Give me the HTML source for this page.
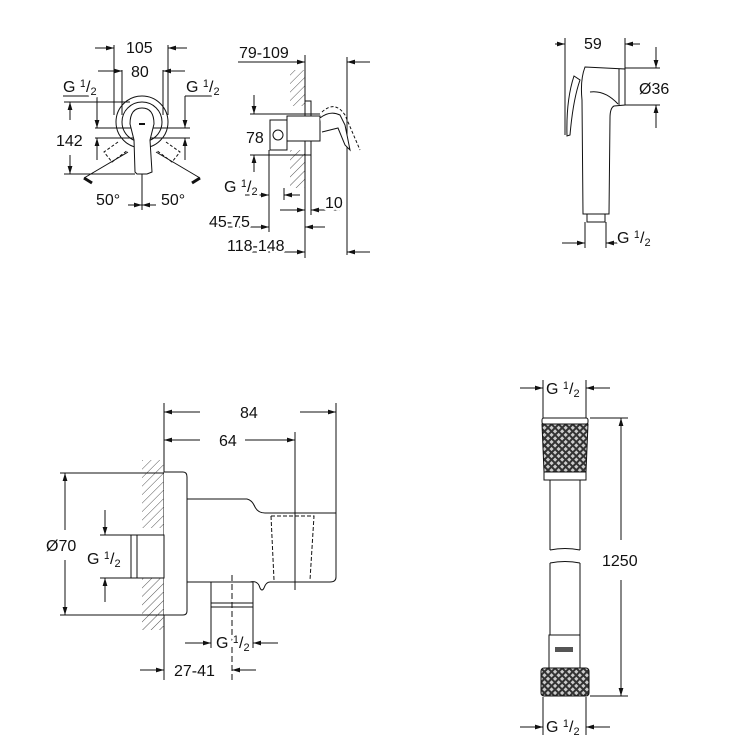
<!DOCTYPE html>
<html><head><meta charset="utf-8"><style>
html,body{margin:0;padding:0;background:#fff;}
svg{display:block;}
text{font-family:"Liberation Sans",sans-serif;font-size:16px;fill:#111;stroke:#fff;stroke-width:5px;paint-order:stroke;stroke-linejoin:round;}
.s{font-size:11px;}
</style></head><body>
<svg width="750" height="750" viewBox="0 0 750 750" xmlns="http://www.w3.org/2000/svg">
<defs>
<marker id="a" viewBox="0 0 10 6" refX="10" refY="3" markerWidth="8" markerHeight="5" orient="auto-start-reverse"><path d="M0,0L10,3L0,6z" fill="#111"/></marker>
<pattern id="h" width="6" height="6" patternUnits="userSpaceOnUse" patternTransform="rotate(45)"><line x1="0" y1="0" x2="0" y2="6" stroke="#555" stroke-width="1"/></pattern>
<pattern id="x" width="5" height="5" patternUnits="userSpaceOnUse" patternTransform="rotate(45)"><rect width="5" height="5" fill="#333"/><rect x="1" y="1" width="3" height="3" fill="#ccc"/></pattern>
</defs>
<g stroke="#111" stroke-width="1" fill="none">
<!-- Front mixer view -->
<line x1="114" y1="45" x2="114" y2="115"/><line x1="168" y1="45" x2="168" y2="115"/>
<line x1="95" y1="48" x2="114" y2="48" marker-end="url(#a)"/><line x1="187" y1="48" x2="168" y2="48" marker-end="url(#a)"/>
<line x1="122" y1="70" x2="122" y2="115"/><line x1="163" y1="70" x2="163" y2="115"/>
<line x1="98" y1="71" x2="122" y2="71" marker-end="url(#a)"/><line x1="185" y1="71" x2="163" y2="71" marker-end="url(#a)"/>
<line x1="63" y1="96" x2="95" y2="96"/><line x1="185" y1="96" x2="220" y2="96"/>
<line x1="64" y1="102" x2="130" y2="102"/><line x1="64" y1="174" x2="135" y2="174"/>
<line x1="70" y1="120" x2="70" y2="102" marker-end="url(#a)"/><line x1="70" y1="155" x2="70" y2="174" marker-end="url(#a)"/>
<line x1="97" y1="96" x2="97" y2="128" marker-end="url(#a)"/><line x1="97" y1="160" x2="97" y2="138" marker-end="url(#a)"/>
<line x1="185" y1="96" x2="185" y2="128" marker-end="url(#a)"/><line x1="185" y1="160" x2="185" y2="138" marker-end="url(#a)"/>
<line x1="95" y1="128" x2="190" y2="128"/><line x1="95" y1="138" x2="190" y2="138"/>
<circle cx="142" cy="122" r="26"/><circle cx="142" cy="122" r="20"/>
<path d="M130,124 Q130,108 142,108 Q154,108 154,124 L150,140 L152,172 L147,174 L137,174 L135,172 L134,140 Z" fill="#fff"/>
<line x1="139" y1="124" x2="145" y2="124" stroke-width="2"/>
<path d="M118,142 L104,152 L112,162 L128,150" stroke-dasharray="3,2"/>
<path d="M166,142 L180,152 L172,162 L156,150" stroke-dasharray="3,2"/>
<line x1="84" y1="178" x2="128" y2="152"/><line x1="200" y1="178" x2="156" y2="152"/>
<line x1="84" y1="178" x2="92" y2="183" stroke-width="3"/><line x1="200" y1="178" x2="192" y2="183" stroke-width="3"/>
<line x1="142" y1="174" x2="142" y2="210"/>
<line x1="128" y1="205" x2="142" y2="205" marker-end="url(#a)"/><line x1="156" y1="205" x2="142" y2="205" marker-end="url(#a)"/>
<!-- Side view -->
<rect x="290" y="70" width="15" height="36" fill="url(#h)" stroke="none"/>
<rect x="290" y="150" width="15" height="38" fill="url(#h)" stroke="none"/>
<line x1="305" y1="55" x2="305" y2="258"/>
<line x1="238" y1="62" x2="305" y2="62" marker-end="url(#a)"/>
<line x1="347" y1="57" x2="347" y2="255"/><line x1="370" y1="62" x2="347" y2="62" marker-end="url(#a)"/>
<rect x="305" y="101" width="6" height="54" fill="#fff"/>
<rect x="287" y="116" width="33" height="25" fill="#fff"/>
<rect x="270" y="120" width="17" height="30" fill="#fff"/>
<circle cx="278" cy="135" r="5"/>
<path d="M320,118 Q330,110 340,115 L345,125 L350,150 L345,145 L338,128 L322,132" fill="#fff"/>
<path d="M322,112 Q335,100 345,115 L360,150" stroke-dasharray="3,2"/>
<line x1="250" y1="114" x2="320" y2="114"/><line x1="250" y1="155" x2="305" y2="155"/>
<line x1="254" y1="95" x2="254" y2="114" marker-end="url(#a)"/><line x1="254" y1="172" x2="254" y2="155" marker-end="url(#a)"/>
<line x1="269" y1="150" x2="269" y2="232"/>
<line x1="245" y1="195" x2="269" y2="195" marker-end="url(#a)"/><line x1="300" y1="195" x2="284" y2="195" marker-end="url(#a)"/>
<line x1="284" y1="188" x2="284" y2="200"/>
<line x1="280" y1="210" x2="305" y2="210" marker-end="url(#a)"/><line x1="325" y1="210" x2="311" y2="210" marker-end="url(#a)"/>
<line x1="311" y1="155" x2="311" y2="215"/><line x1="311" y1="210" x2="340" y2="210"/>
<line x1="228" y1="227" x2="269" y2="227" marker-end="url(#a)"/><line x1="325" y1="227" x2="305" y2="227" marker-end="url(#a)"/>
<line x1="228" y1="252" x2="305" y2="252" marker-end="url(#a)"/><line x1="370" y1="252" x2="347" y2="252" marker-end="url(#a)"/>
<!-- Hand shower -->
<line x1="565" y1="38" x2="565" y2="135"/><line x1="625" y1="38" x2="625" y2="72"/>
<line x1="555" y1="44" x2="565" y2="44" marker-end="url(#a)"/><line x1="640" y1="44" x2="625" y2="44" marker-end="url(#a)"/>
<line x1="625" y1="68" x2="660" y2="68"/><line x1="612" y1="105" x2="660" y2="105"/>
<line x1="656" y1="47" x2="656" y2="68" marker-end="url(#a)"/><line x1="656" y1="128" x2="656" y2="105" marker-end="url(#a)"/>
<path d="M585,67 L625,69 L625,105 L614,106 Q610,108 610,118 L609,214 L583,214 L582,100 Q580,80 585,67 Z" fill="#fff"/>
<line x1="619" y1="69" x2="619" y2="105"/>
<path d="M590,92 Q605,90 618,104"/>
<path d="M574,76 Q566,100 567,136 L570,135 Q573,100 580,80 Z" fill="#fff"/>
<rect x="587" y="214" width="18" height="8" fill="#fff"/>
<line x1="585" y1="222" x2="585" y2="248"/><line x1="606" y1="222" x2="606" y2="248"/>
<line x1="562" y1="243" x2="585" y2="243" marker-end="url(#a)"/><line x1="628" y1="243" x2="606" y2="243" marker-end="url(#a)"/>
<!-- Wall outlet -->
<line x1="164" y1="403" x2="164" y2="680"/><line x1="336" y1="403" x2="336" y2="515"/>
<line x1="200" y1="412" x2="164" y2="412" marker-end="url(#a)"/><line x1="300" y1="412" x2="336" y2="412" marker-end="url(#a)"/>
<line x1="295" y1="432" x2="295" y2="590"/>
<line x1="200" y1="440" x2="164" y2="440" marker-end="url(#a)"/><line x1="245" y1="440" x2="295" y2="440" marker-end="url(#a)"/>
<rect x="142" y="460" width="22" height="68" fill="url(#h)" stroke="none"/>
<rect x="142" y="578" width="22" height="52" fill="url(#h)" stroke="none"/>
<path d="M164,472 L183,472 Q187,472 187,477 L187,611 Q187,615 183,615 L164,615" fill="#fff"/>
<path d="M187,499 L247,499 Q252,500 255,507 Q258,513 265,513 L336,513 L336,577 Q336,582 330,582 L270,582 Q266,582 264,588 Q262,592 260,588 Q258,580 250,582 L187,582"/>
<path d="M271,516 L274,580 M271,516 L314,516 L310,580" stroke-dasharray="4,2"/>
<rect x="131" y="535" width="33" height="43" fill="#fff"/>
<line x1="137" y1="535" x2="137" y2="578"/>
<rect x="211" y="582" width="42" height="25" fill="#fff"/><line x1="211" y1="603" x2="253" y2="603"/>
<line x1="232" y1="575" x2="232" y2="680" stroke-dasharray="6,3"/>
<line x1="60" y1="473" x2="164" y2="473"/><line x1="60" y1="615" x2="164" y2="615"/>
<line x1="65" y1="530" x2="65" y2="473" marker-end="url(#a)"/><line x1="65" y1="560" x2="65" y2="615" marker-end="url(#a)"/>
<line x1="100" y1="535" x2="131" y2="535"/><line x1="100" y1="578" x2="131" y2="578"/>
<line x1="105" y1="510" x2="105" y2="535" marker-end="url(#a)"/><line x1="105" y1="602" x2="105" y2="578" marker-end="url(#a)"/>
<line x1="211" y1="607" x2="211" y2="648"/><line x1="253" y1="607" x2="253" y2="648"/>
<line x1="185" y1="643" x2="211" y2="643" marker-end="url(#a)"/><line x1="278" y1="643" x2="253" y2="643" marker-end="url(#a)"/>
<line x1="140" y1="670" x2="164" y2="670" marker-end="url(#a)"/><line x1="256" y1="670" x2="232" y2="670" marker-end="url(#a)"/>
<!-- Hose -->
<line x1="543" y1="380" x2="543" y2="418"/><line x1="586" y1="380" x2="586" y2="418"/>
<line x1="520" y1="388" x2="543" y2="388" marker-end="url(#a)"/><line x1="610" y1="388" x2="586" y2="388" marker-end="url(#a)"/>
<rect x="542" y="418" width="46" height="6" rx="2" fill="#fff"/>
<path d="M542,424 L588,424 L586,472 L544,472 Z" fill="url(#x)"/>
<rect x="544" y="472" width="42" height="8" fill="#fff"/>
<line x1="550" y1="480" x2="550" y2="550"/><line x1="580" y1="480" x2="580" y2="550"/>
<path d="M550,550 Q565,547 580,550"/><path d="M550,563 Q565,560 580,563"/>
<line x1="550" y1="563" x2="550" y2="635"/><line x1="580" y1="563" x2="580" y2="635"/>
<rect x="549" y="635" width="31" height="33" fill="#fff"/>
<rect x="555" y="647" width="18" height="5" fill="#555" stroke="none"/>
<rect x="541" y="668" width="48" height="28" rx="3" fill="url(#x)"/>
<line x1="590" y1="418" x2="628" y2="418"/><line x1="590" y1="696" x2="628" y2="696"/>
<line x1="621" y1="540" x2="621" y2="418" marker-end="url(#a)"/><line x1="621" y1="580" x2="621" y2="696" marker-end="url(#a)"/>
<line x1="543" y1="697" x2="543" y2="735"/><line x1="586" y1="697" x2="586" y2="735"/>
<line x1="520" y1="727" x2="543" y2="727" marker-end="url(#a)"/><line x1="610" y1="727" x2="586" y2="727" marker-end="url(#a)"/>
</g>
<g>
<text x="126" y="53">105</text><text x="131" y="77">80</text>
<text x="63" y="92">G <tspan class="s" dy="-5">1</tspan><tspan dy="5">/</tspan><tspan class="s" dy="3">2</tspan></text>
<text x="186" y="92">G <tspan class="s" dy="-5">1</tspan><tspan dy="5">/</tspan><tspan class="s" dy="3">2</tspan></text>
<text x="56" y="146">142</text>
<text x="96" y="205">50°</text><text x="161" y="205">50°</text>
<text x="239" y="58">79-109</text>
<text x="246" y="143">78</text>
<text x="224" y="192">G <tspan class="s" dy="-5">1</tspan><tspan dy="5">/</tspan><tspan class="s" dy="3">2</tspan></text>
<text x="325" y="208">10</text>
<text x="209" y="227">45-75</text>
<text x="227" y="251">118-148</text>
<text x="584" y="49">59</text>
<text x="639" y="94">Ø36</text>
<text x="617" y="243">G <tspan class="s" dy="-5">1</tspan><tspan dy="5">/</tspan><tspan class="s" dy="3">2</tspan></text>
<text x="240" y="418">84</text>
<text x="219" y="446">64</text>
<text x="46" y="551">Ø70</text>
<text x="87" y="564">G <tspan class="s" dy="-5">1</tspan><tspan dy="5">/</tspan><tspan class="s" dy="3">2</tspan></text>
<text x="216" y="648">G <tspan class="s" dy="-5">1</tspan><tspan dy="5">/</tspan><tspan class="s" dy="3">2</tspan></text>
<text x="174" y="676">27-41</text>
<text x="546" y="394">G <tspan class="s" dy="-5">1</tspan><tspan dy="5">/</tspan><tspan class="s" dy="3">2</tspan></text>
<text x="602" y="566">1250</text>
<text x="546" y="732">G <tspan class="s" dy="-5">1</tspan><tspan dy="5">/</tspan><tspan class="s" dy="3">2</tspan></text>
</g>
</svg>
</body></html>
